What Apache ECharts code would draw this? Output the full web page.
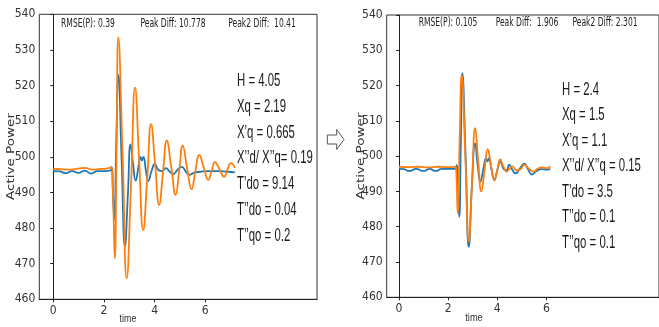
<!DOCTYPE html>
<html>
<head>
<meta charset="utf-8">
<script src="https://cdn.jsdelivr.net/npm/echarts@6/dist/echarts.min.js"></script>
<style>
html,body{margin:0;padding:0;background:#fff;}
#chart{width:659px;height:327px;}
</style>
</head>
<body>
<div id="chart"></div>
<script>
// ---------- DATA ----------
const xTickValues = [0, 2, 4, 6];

// Left panel
const leftOrangeT = [0.00,0.30,0.60,0.90,1.25,1.55,1.85,2.10,2.30,2.36,2.43,2.50,2.57,2.74,2.90,3.07,3.23,3.39,3.55,3.71,3.86,4.02,4.18,4.33,4.48,4.66,4.83,4.97,5.11,5.29,5.46,5.61,5.76,5.94,6.12,6.25,6.38,6.56,6.74,6.88,7.01,7.17];
const leftOrangeV = [496.6,496.5,496.4,496.6,496.9,496.4,496.6,496.7,497.0,489.0,471.5,502.0,533.5,500.0,465.9,492.0,519.4,499.0,479.4,494.0,509.2,498.0,486.5,495.5,504.5,497.0,489.3,496.0,503.1,496.5,490.9,496.0,500.5,497.0,493.5,496.0,498.5,496.5,494.4,496.5,498.2,496.9];
const leftBlueT = [0.00,0.25,0.50,0.75,1.00,1.25,1.50,1.75,2.00,2.27,2.31,2.35,2.41,2.49,2.57,2.70,2.83,2.95,3.05,3.15,3.25,3.37,3.44,3.50,3.56,3.66,3.75,3.88,4.01,4.15,4.30,4.45,4.60,4.74,4.90,5.07,5.22,5.37,5.55,5.80,6.10,6.50,6.90,7.17];
const leftBlueV = [496.0,495.9,495.4,496.0,495.5,496.1,495.3,496.0,496.0,496.2,497.2,491.0,482.5,505.0,523.0,499.0,474.8,490.0,503.5,498.0,493.3,497.5,500.0,499.0,500.0,496.0,493.2,496.0,498.0,496.3,496.0,496.8,495.8,495.2,496.3,497.2,496.0,494.9,495.5,495.8,496.0,496.0,495.8,495.6];

// Right panel
const rightOrangeT = [0.00,0.40,0.80,1.20,1.60,2.00,2.30,2.34,2.39,2.47,2.55,2.70,2.84,2.97,3.10,3.23,3.35,3.48,3.61,3.75,3.88,4.00,4.12,4.25,4.38,4.50,4.61,4.78,4.95,5.10,5.28,5.47,5.65,5.85,6.00,6.16];
const rightOrangeV = [497.0,496.9,497.0,496.8,497.0,496.9,497.0,494.0,483.8,505.0,523.0,500.0,475.8,492.0,507.9,498.0,490.0,496.0,502.0,497.0,493.1,496.0,499.1,497.0,495.6,496.5,497.1,496.0,496.3,497.5,496.5,495.6,496.5,496.8,496.6,497.1];
const rightBlueT = [0.00,0.20,0.42,0.70,1.00,1.25,1.49,1.75,2.00,2.30,2.35,2.39,2.45,2.52,2.58,2.71,2.84,2.97,3.10,3.21,3.31,3.45,3.54,3.60,3.66,3.77,3.88,4.00,4.12,4.28,4.38,4.48,4.62,4.74,4.92,5.10,5.25,5.41,5.60,5.80,6.00,6.16];
const rightBlueV = [496.4,496.3,495.8,496.4,495.8,496.4,495.8,496.4,496.4,496.4,497.5,492.0,482.8,505.0,523.5,500.0,474.3,492.0,503.6,497.0,492.8,497.0,499.4,498.5,499.4,496.0,493.3,496.0,498.5,496.2,496.1,497.6,496.0,495.1,496.5,497.9,496.3,494.8,495.8,496.3,496.2,496.3];

// Texts
const leftStats = ["RMSE(P): 0.39", "Peak Diff: 10.778", "Peak2 Diff:  10.41"];
const rightStats = ["RMSE(P): 0.105", "Peak Diff:  1.906", "Peak2 Diff: 2.301"];
const leftParams = ["H = 4.05", "Xq = 2.19", "X’q = 0.665", "X’’d/ X’’q= 0.19", "T’do = 9.14", "T’’do = 0.04", "T’’qo = 0.2"];
const rightParams = ["H = 2.4", "Xq = 1.5", "X’q = 1.1", "X’’d/ X’’q = 0.15", "T’do = 3.5", "T’’do = 0.1", "T’’qo = 0.1"];
const yName = "Active Power";
const xName = "time";

// ---------- LAYOUT / STYLE ----------
const BLUE = '#1f77b4', ORANGE = '#ff7f0e';
const TICK_FONT = '"Liberation Sans Narrow", "DejaVu Sans Condensed", "Liberation Sans", sans-serif';
const TXT_FONT = '"Liberation Sans", Arial, sans-serif';
const STAT_FONT = '"DejaVu Sans", sans-serif';
const YL_FONT = '"DejaVu Sans", sans-serif';

const mctx = document.createElement('canvas').getContext('2d');
function fit(text, size, family, target) {
  mctx.font = size + 'px ' + family;
  const w = mctx.measureText(text).width;
  return w > 0 ? target / w : 1;
}
function txt(text, x, y, size, family, scale, align, rotation, color) {
  return {
    type: 'text', x: x, y: y, rotation: rotation || 0,
    scaleX: scale,
    z: 100,
    style: { text: text, fontSize: size, fontFamily: family, fill: color || '#222',
             textAlign: align || 'left', textVerticalAlign: 'middle' }
  };
}
const zip = (t, v) => t.map((x, i) => [x, v[i]]);

const graphics = [];
// top stats (uniform horizontal squeeze, centred where read)
const statScale = 0.66;
const lStatC = [88, 173, 262];
leftStats.forEach((s, i) => graphics.push(txt(s, lStatC[i], 24.5, 11.5, STAT_FONT, statScale, 'center', 0, '#222')));
const rStatC = [448, 527, 605];
rightStats.forEach((s, i) => graphics.push(txt(s, rStatC[i], 23, 11.5, STAT_FONT, statScale, 'center', 0, '#222')));
// params
const parScale = 0.65;
leftParams.forEach((s, i) => graphics.push(txt(s, 237, 81.5 + 25.7 * i, 17.5, TXT_FONT, parScale, 'left', 0, '#1a1a1a')));
rightParams.forEach((s, i) => graphics.push(txt(s, 562, 90 + 25.5 * i, 17.5, TXT_FONT, parScale, 'left', 0, '#1a1a1a')));
// axis names
graphics.push(txt(yName, 11.5, 156.5, 10.5, YL_FONT, fit(yName, 10.5, YL_FONT, 87), 'center', Math.PI / 2, '#333'));
graphics.push(txt(yName, 361, 156, 10.5, YL_FONT, fit(yName, 10.5, YL_FONT, 87), 'center', Math.PI / 2, '#333'));
graphics.push(txt(xName, 128, 318.5, 11, TXT_FONT, fit(xName, 11, TXT_FONT, 17), 'center', 0, '#333'));
graphics.push(txt(xName, 474, 317.5, 11, TXT_FONT, fit(xName, 11, TXT_FONT, 17.5), 'center', 0, '#333'));
// arrow between panels
graphics.push({
  type: 'polygon', z: 100,
  shape: { points: [[327.3,135],[336.7,135],[336.7,129.5],[344,139.5],[336.7,149.5],[336.7,144],[327.3,144]] },
  style: { fill: '#fff', stroke: '#555', lineWidth: 1 }
});

function yAxis(gi) {
  return {
    type: 'value', gridIndex: gi, min: 460, max: 540, interval: 10,
    axisLine: { show: true, lineStyle: { color: '#222', width: 1 } },
    axisTick: { show: true, length: 3, lineStyle: { color: '#222' } },
    axisLabel: { fontSize: 12, color: '#333', margin: 4, fontFamily: TICK_FONT },
    splitLine: { show: false }
  };
}
function xAxis(gi, min, max) {
  return {
    type: 'value', gridIndex: gi, min: min, max: max,
    axisLine: { show: true, onZero: false, lineStyle: { color: '#222', width: 1 } },
    axisTick: { show: true, length: 3, customValues: xTickValues, lineStyle: { color: '#222' } },
    axisLabel: { fontSize: 12, color: '#333', margin: 6, fontFamily: TICK_FONT, customValues: xTickValues },
    splitLine: { show: false }
  };
}
function line(data, color, xi) {
  return {
    type: 'line', xAxisIndex: xi, yAxisIndex: xi, data: data, showSymbol: false, symbol: 'none',
    smooth: 0.5,
    lineStyle: { color: color, width: 1.8 }, itemStyle: { color: color }
  };
}

const chart = echarts.init(document.getElementById('chart'), null, { renderer: 'canvas' });
chart.setOption({
  animation: false,
  backgroundColor: '#fff',
  grid: [
    { left: 39.3, top: 14.3, width: 277.7, height: 285, show: true, borderColor: '#333', borderWidth: 1 },
    { left: 386.7, top: 15, width: 278, height: 282.3, show: true, borderColor: '#333', borderWidth: 1 }
  ],
  xAxis: [xAxis(0, -0.55, 10.41), xAxis(1, -0.5, 10.58)],
  yAxis: [yAxis(0), yAxis(1)],
  series: [
    line(zip(leftBlueT, leftBlueV), BLUE, 0),
    line(zip(leftOrangeT, leftOrangeV), ORANGE, 0),
    line(zip(rightBlueT, rightBlueV), BLUE, 1),
    line(zip(rightOrangeT, rightOrangeV), ORANGE, 1)
  ],
  graphic: graphics
});
</script>
</body>
</html>
